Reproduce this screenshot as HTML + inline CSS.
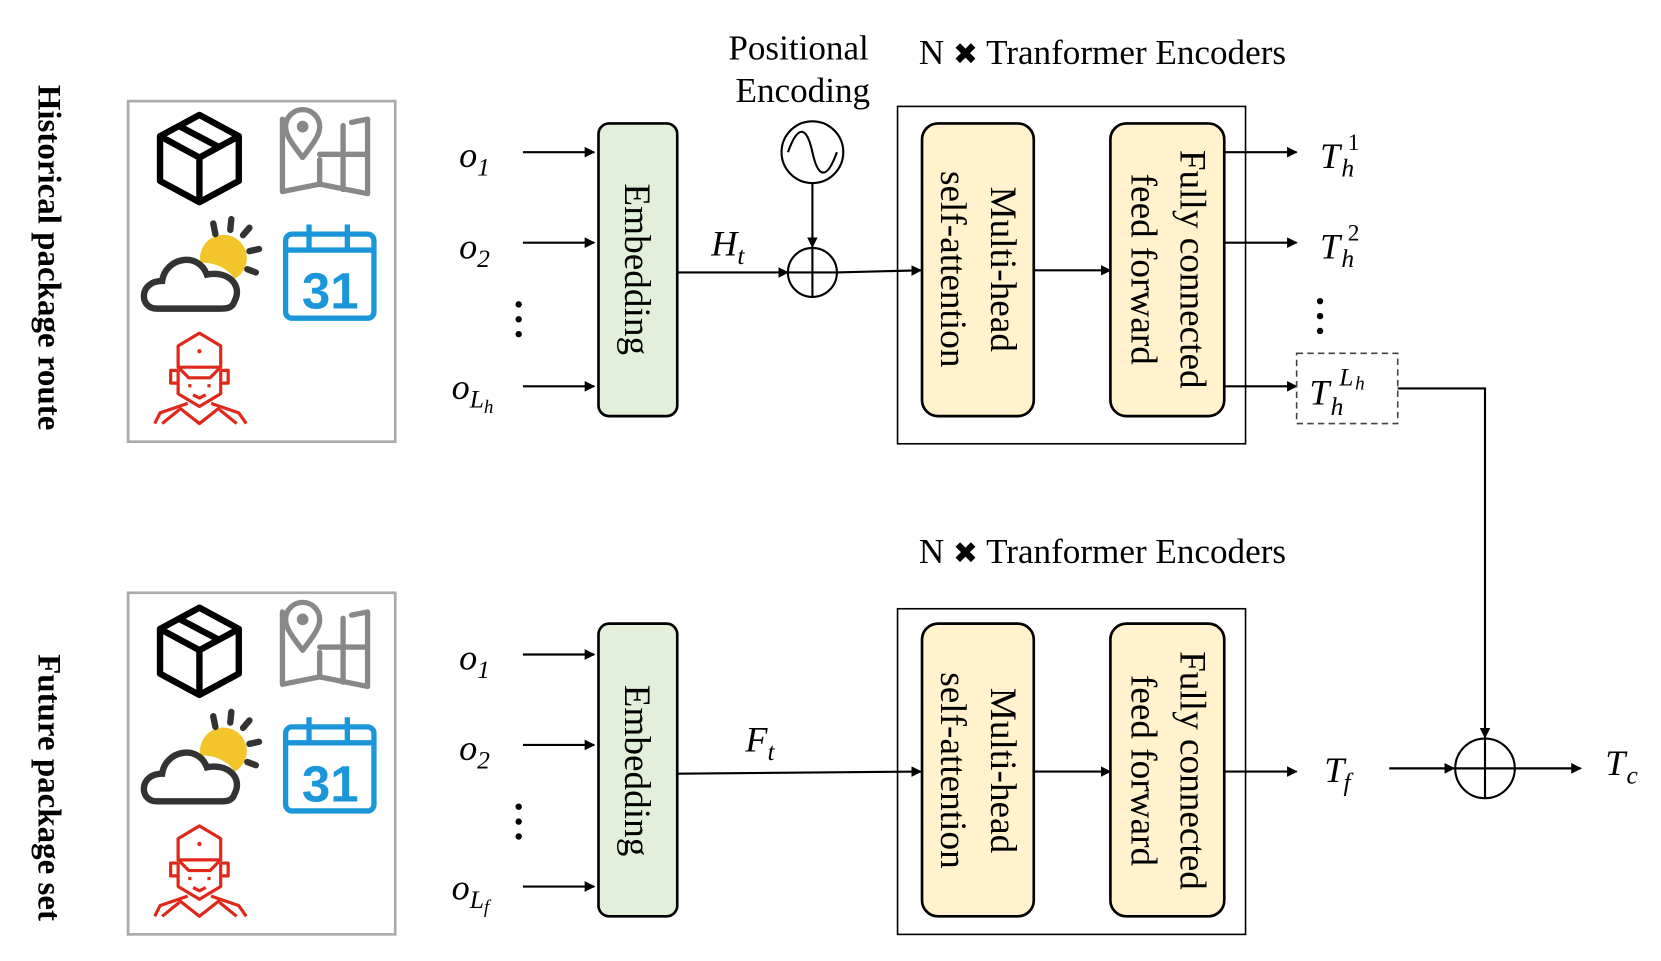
<!DOCTYPE html>
<html><head><meta charset="utf-8"><style>html,body{margin:0;padding:0;background:#fff}svg{display:block}</style></head>
<body>
<svg width="1661" height="961" viewBox="0 0 1560 903" xmlns="http://www.w3.org/2000/svg" font-family="Liberation Serif, serif">
<defs>
<marker id="ah" markerWidth="10" markerHeight="10" refX="9" refY="5" orient="auto" markerUnits="userSpaceOnUse"><path d="M0,0 L10,5 L0,10 z" fill="#000"/></marker>
<g id="icons">
  <g fill="none" stroke="#000" stroke-width="6" stroke-linejoin="round">
    <path d="M187,108 L224,128 L224,170 L187,190 L150,170 L150,128 Z"/>
    <path d="M150,128 L187,148 L224,128 M187,148 L187,190 M167,118 L205,138"/>
  </g>
  <g fill="none" stroke="#888" stroke-width="5" stroke-linecap="round" stroke-linejoin="round">
    <path d="M265,112 L265,180 L300,173 L345,182 L345,112 L330,115"/>
    <path d="M300,150 L300,173 M322,118 L322,178 M300,145 L345,145"/>
    <path d="M284,148 C270,130 268,125 268,119 A16,16 0 0 1 300,119 C300,125 298,130 284,148 Z"/>
    <circle cx="284" cy="119" r="3" fill="#888"/>
  </g>
  <path d="M188,247 A22,22 0 1 1 220,262 C214,252 200,246 188,247 Z" fill="#f2c62a"/>
  <g fill="none" stroke="#333" stroke-width="6" stroke-linecap="round">
    <path d="M147,290 C130,290 130,264 152,264 C155,242 186,236 194,258 C214,254 228,268 220,283 C218,290 212,290 205,290 Z" fill="#fff"/>
    <path d="M200,210 L202,220 M217,206 L216,216 M234,214 L228,221 M243,234 L234,236 M240,256 L232,253"/>
  </g>
  <g fill="none" stroke="#1a96d9" stroke-width="5">
    <rect x="268" y="220" width="83" height="79" rx="6"/>
    <path d="M268,235 L351,235 M290,211 L290,234 M326,211 L326,234"/>
  </g>
  <text x="310" y="290" font-family="Liberation Sans, sans-serif" font-weight="bold" font-size="48" fill="#1a96d9" text-anchor="middle">31</text>
  <g fill="none" stroke="#e0281a" stroke-width="3" stroke-linejoin="round">
    <path d="M167,325 L187,313 L207,325 L207,345 L167,345 Z"/>
    <path d="M167,345 L177,355 L197,355 L207,345 M167,348 L167,370 L187,382 L207,370 L207,348"/>
    <path d="M167,360 L160,360 L160,348 L167,348 M207,360 L214,360 L214,348 L207,348"/>
    <path d="M176,379 L150,388 L145,398 M198,379 L224,388 L231,398 M168,383 L187,398 L206,383 M152,398 L168,385 M222,398 L206,385"/>
    <path d="M181,371 L187,374 L193,371 M178,361 L178,364 M196,361 L196,364"/>
  </g>
  <circle cx="187" cy="330" r="2" fill="#e0281a"/>
</g>
</defs>

<text transform="translate(36,242) rotate(90)" font-size="31" font-weight="bold" text-anchor="middle">Historical package route</text>
<text transform="translate(36,740) rotate(90)" font-size="31" font-weight="bold" text-anchor="middle">Future package set</text>

<rect x="120" y="95" width="251" height="320" fill="none" stroke="#aaa" stroke-width="2.5"/>
<rect x="120" y="557" width="251" height="321" fill="none" stroke="#aaa" stroke-width="2.5"/>
<use href="#icons"/>
<use href="#icons" y="463"/>

<g font-style="italic" font-size="34">
<text x="431" y="157">o<tspan font-size="24" dy="8">1</tspan></text>
<text x="431" y="243">o<tspan font-size="24" dy="8">2</tspan></text>
<text x="424" y="375">o<tspan font-size="24" dy="8">L</tspan><tspan font-size="18" dy="5">h</tspan></text>
<text x="431" y="629">o<tspan font-size="24" dy="8">1</tspan></text>
<text x="431" y="714">o<tspan font-size="24" dy="8">2</tspan></text>
<text x="424" y="845">o<tspan font-size="24" dy="8">L</tspan><tspan font-size="18" dy="5">f</tspan></text>
<text x="668" y="240">H<tspan font-size="24" dy="8">t</tspan></text>
<text x="700" y="706">F<tspan font-size="24" dy="8">t</tspan></text>
<text x="1240" y="158">T</text><text x="1260" y="166" font-size="24">h</text><text x="1266" y="141" font-size="22" font-style="normal">1</text>
<text x="1240" y="243">T</text><text x="1260" y="251" font-size="24">h</text><text x="1266" y="226" font-size="22" font-style="normal">2</text>
<text x="1230" y="380">T</text><text x="1250" y="390" font-size="24">h</text><text x="1258" y="362" font-size="24">L</text><text x="1273" y="366" font-size="18">h</text>
<text x="1244" y="735">T</text><text x="1262" y="743" font-size="24">f</text>
<text x="1508" y="728">T</text><text x="1528" y="736" font-size="24">c</text>
</g>
<g fill="#000">
<circle cx="487" cy="286" r="3"/><circle cx="487" cy="300" r="3"/><circle cx="487" cy="314" r="3"/>
<circle cx="487" cy="758" r="3"/><circle cx="487" cy="772" r="3"/><circle cx="487" cy="786" r="3"/>
<circle cx="1240" cy="283" r="3"/><circle cx="1240" cy="297" r="3"/><circle cx="1240" cy="311" r="3"/>
</g>

<g stroke="#000" stroke-width="2" fill="none" marker-end="url(#ah)">
<line x1="491" y1="143" x2="558" y2="143"/><line x1="491" y1="228" x2="558" y2="228"/><line x1="491" y1="363" x2="558" y2="363"/>
<line x1="491" y1="615" x2="558" y2="615"/><line x1="491" y1="700" x2="558" y2="700"/><line x1="491" y1="833" x2="558" y2="833"/>
<line x1="636" y1="256" x2="740" y2="256"/>
<line x1="763" y1="172" x2="763" y2="232"/>
<line x1="786" y1="256" x2="865" y2="254"/>
<line x1="971" y1="254" x2="1043" y2="254"/>
<line x1="1150" y1="143" x2="1218" y2="143"/><line x1="1150" y1="228" x2="1218" y2="228"/><line x1="1150" y1="363" x2="1218" y2="363"/>
<line x1="636" y1="727" x2="865" y2="725"/>
<line x1="971" y1="725" x2="1043" y2="725"/>
<line x1="1150" y1="725" x2="1218" y2="725"/>
<line x1="1305" y1="722" x2="1366" y2="722"/>
<line x1="1423" y1="722" x2="1485" y2="722"/>
<polyline points="1313,365 1395,365 1395,693"/>
</g>

<rect x="843" y="100" width="327" height="317" fill="none" stroke="#000" stroke-width="1.5"/>
<rect x="843" y="572" width="327" height="306" fill="none" stroke="#000" stroke-width="1.5"/>
<rect x="1218" y="332" width="95" height="66" fill="none" stroke="#444" stroke-width="1.5" stroke-dasharray="6,4"/>

<g stroke="#000" stroke-width="2.5">
<rect x="562" y="116" width="74" height="275" rx="10" fill="#e2efda"/>
<rect x="866" y="116" width="105" height="275" rx="15" fill="#fff2cc"/>
<rect x="1043" y="116" width="107" height="275" rx="15" fill="#fff2cc"/>
<rect x="562" y="586" width="74" height="275" rx="10" fill="#e2efda"/>
<rect x="866" y="586" width="105" height="275" rx="15" fill="#fff2cc"/>
<rect x="1043" y="586" width="107" height="275" rx="15" fill="#fff2cc"/>
</g>
<g font-size="35" text-anchor="middle">
<text transform="translate(587,253) rotate(90)">Embedding</text>
<text transform="translate(931,253) rotate(90)">Multi-head</text>
<text transform="translate(884,253) rotate(90)">self-attention</text>
<text transform="translate(1109,253) rotate(90)">Fully  connected</text>
<text transform="translate(1063,253) rotate(90)">feed  forward</text>
<text transform="translate(587,724) rotate(90)">Embedding</text>
<text transform="translate(931,724) rotate(90)">Multi-head</text>
<text transform="translate(884,724) rotate(90)">self-attention</text>
<text transform="translate(1109,724) rotate(90)">Fully  connected</text>
<text transform="translate(1063,724) rotate(90)">feed  forward</text>
</g>
<g font-size="33">
<text x="750" y="56" text-anchor="middle">Positional</text>
<text x="754" y="96" text-anchor="middle">Encoding</text>
<text x="863" y="60">N <tspan font-family="DejaVu Sans, sans-serif" font-weight="bold" font-size="28">✖</tspan> Tranformer Encoders</text>
<text x="863" y="529">N <tspan font-family="DejaVu Sans, sans-serif" font-weight="bold" font-size="28">✖</tspan> Tranformer Encoders</text>
</g>

<g stroke="#000" stroke-width="2" fill="#fff">
<circle cx="763" cy="143" r="29"/>
<path d="M740,143 C750,115 758,120 763,143 C768,166 776,171 786,143" fill="none"/>
<circle cx="763" cy="256" r="23"/>
<path d="M740,256 H786 M763,233 V279" fill="none"/>
<circle cx="1395" cy="722" r="28"/>
<path d="M1367,722 H1423 M1395,694 V750" fill="none"/>
</g>
</svg>
</body></html>
